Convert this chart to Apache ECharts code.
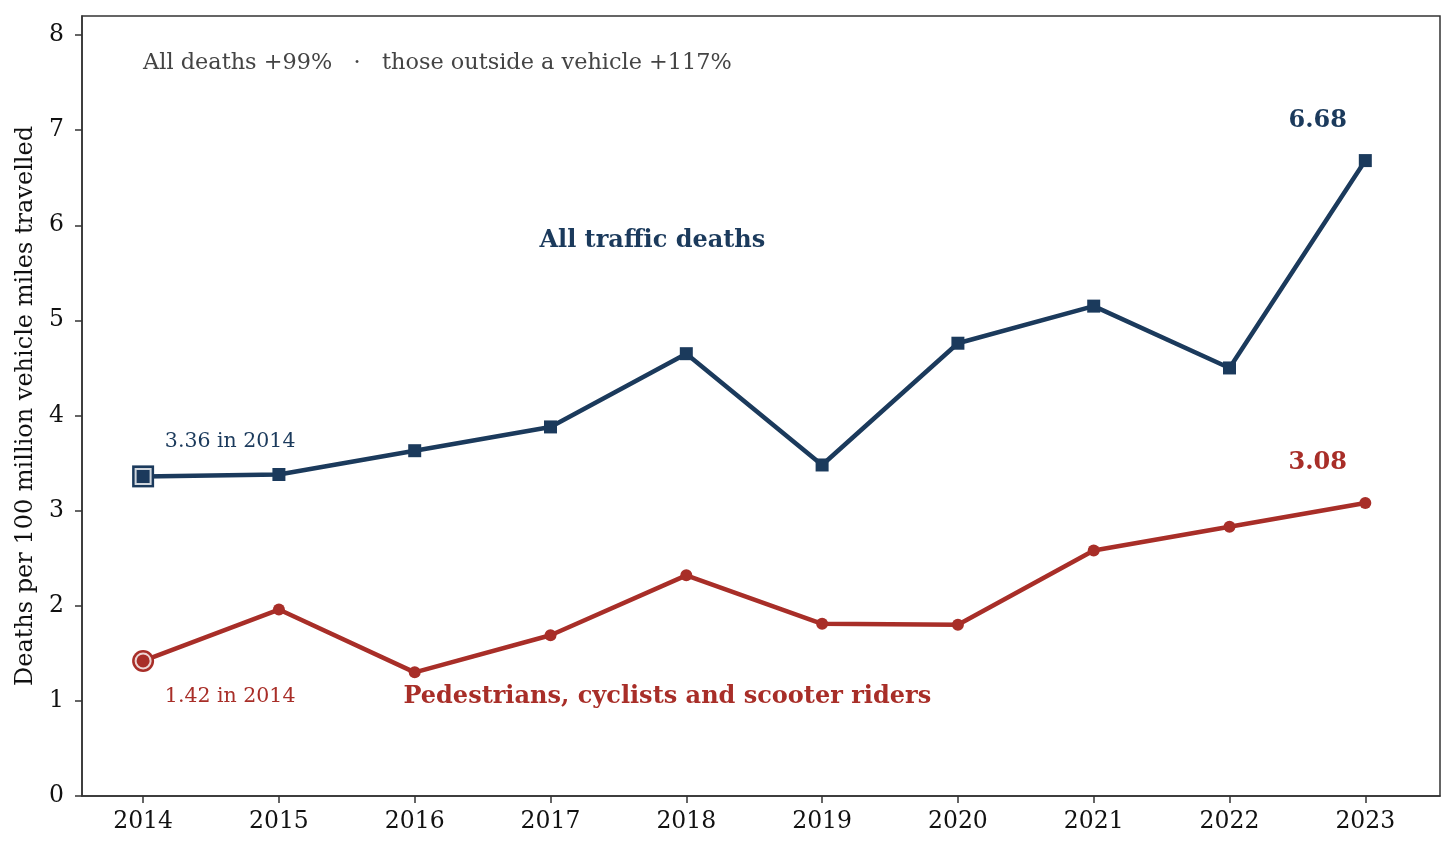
<!DOCTYPE html>
<html>
<head>
<meta charset="utf-8">
<script src="https://cdn.jsdelivr.net/npm/echarts@6/dist/echarts.min.js"></script>
<style>
    html, body { margin: 0; padding: 0; background: #fff; }
    #chart { width: 1456px; height: 852px; }
</style>
</head>
<body>
<div id="chart"></div>
<script>
var years = [2014, 2015, 2016, 2017, 2018, 2019, 2020, 2021, 2022, 2023];
var allDeaths = [3.36, 3.38, 3.63, 3.88, 4.65, 3.48, 4.76, 5.15, 4.50, 6.68];
var outsideDeaths = [1.42, 1.96, 1.30, 1.69, 2.32, 1.81, 1.80, 2.58, 2.83, 3.08];
var yTicks = [0, 1, 2, 3, 4, 5, 6, 7, 8];

var BLUE = '#1b3a5c', RED = '#a82e28', FONT = 'DejaVu Serif';

var chart = echarts.init(document.getElementById('chart'));

function pairs(xs, ys) {
    return xs.map(function (x, i) { return [x, ys[i]]; });
}

// first point gets the big ringed marker
function lineData(ys, size) {
    var d = pairs(years, ys);
    d[0] = { value: d[0], symbolSize: size };
    return d;
}

var option = {
    animation: false,
    grid: {
        left: 82, right: 16, top: 16, bottom: 56, outerBoundsMode: 'none', containLabel: false,
        show: true, borderColor: '#333', borderWidth: 1.5, backgroundColor: 'transparent'
    },
    xAxis: {
        type: 'value', min: 2013.55, max: 2023.55,
        axisLine: { show: true, lineStyle: { color: '#333', width: 1.5 } },
        axisTick: { show: true, length: 7, lineStyle: { color: '#333', width: 1.5 }, customValues: years },
        axisLabel: {
            customValues: years, margin: 14, color: '#111', fontFamily: FONT, fontSize: 23.5,
            formatter: function (v) { return String(v); }
        },
        splitLine: { show: false }
    },
    yAxis: {
        type: 'value', min: 0, max: 8.2,
        name: 'Deaths per 100 million vehicle miles travelled',
        nameLocation: 'middle', nameGap: 44,
        nameTextStyle: { color: '#111', fontFamily: FONT, fontSize: 24 },
        axisLine: { show: true, lineStyle: { color: '#333', width: 1.5 } },
        axisTick: { show: true, length: 7, lineStyle: { color: '#333', width: 1.5 }, customValues: yTicks },
        axisLabel: { customValues: yTicks, margin: 18, color: '#111', fontFamily: FONT, fontSize: 23.5 },
        splitLine: { show: false }
    },
    series: [
        {
            type: 'line', data: lineData(allDeaths, 22), symbol: 'rect', symbolSize: 13,
            lineStyle: { color: BLUE, width: 4.5 }, itemStyle: { color: BLUE }, z: 3
        },
        {
            type: 'line', data: lineData(outsideDeaths, 22), symbol: 'circle', symbolSize: 12,
            lineStyle: { color: RED, width: 4.5 }, itemStyle: { color: RED }, z: 3
        },
        {
            type: 'scatter', data: [[years[0], allDeaths[0]]], symbol: 'rect', symbolSize: 15,
            itemStyle: { color: BLUE, borderColor: '#fff', borderWidth: 2 }, z: 5
        },
        {
            type: 'scatter', data: [[years[0], outsideDeaths[0]]], symbol: 'circle', symbolSize: 15,
            itemStyle: { color: RED, borderColor: '#fff', borderWidth: 2 }, z: 5
        }
    ]
};
chart.setOption(option);

// text notes, placed in data coordinates
var notes = [
    { text: 'All deaths +99%   ·   those outside a vehicle +117%', at: [2014.0, 7.70], align: 'left', color: '#444', size: 22.4, bold: false },
    { text: '3.36 in 2014', at: [2014.16, 3.73], align: 'left', color: BLUE, size: 20.5, bold: false },
    { text: '1.42 in 2014', at: [2014.16, 1.04], align: 'left', color: RED, size: 20.5, bold: false },
    { text: 'All traffic deaths', at: [2017.75, 5.84], align: 'center', color: BLUE, size: 24, bold: true },
    { text: 'Pedestrians, cyclists and scooter riders', at: [2017.86, 1.04], align: 'center', color: RED, size: 24, bold: true },
    { text: '6.68', at: [2022.65, 7.10], align: 'center', color: BLUE, size: 24, bold: true },
    { text: '3.08', at: [2022.65, 3.50], align: 'center', color: RED, size: 24, bold: true }
];

chart.setOption({
    graphic: notes.map(function (n) {
        var p = chart.convertToPixel({ gridIndex: 0 }, n.at);
        return {
            type: 'text', x: p[0], y: p[1], z: 10,
            style: {
                text: n.text, fill: n.color, align: n.align, verticalAlign: 'middle',
                font: (n.bold ? 'bold ' : '') + n.size + 'px "' + FONT + '"'
            }
        };
    })
});
</script>
</body>
</html>
